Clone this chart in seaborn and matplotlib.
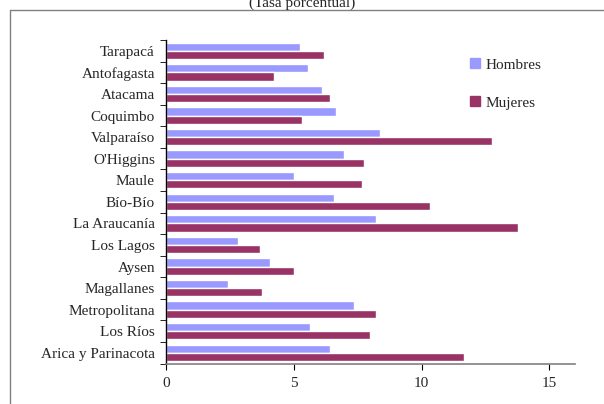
import pandas as pd
import numpy as np
import matplotlib
matplotlib.use("Agg")
import matplotlib.pyplot as plt
import seaborn as sns
from matplotlib.lines import Line2D
from matplotlib.patches import Patch

regiones = ["Tarapacá", "Antofagasta", "Atacama", "Coquimbo", "Valparaíso",
            "O'Higgins", "Maule", "Bío-Bío", "La Araucanía", "Los Lagos",
            "Aysen", "Magallanes", "Metropolitana", "Los Ríos", "Arica y Parinacota"]
hombres = [5.24, 5.56, 6.10, 6.65, 8.38, 6.97, 5.01, 6.58, 8.22, 2.82,
           4.07, 2.43, 7.36, 5.64, 6.42]
mujeres = [6.18, 4.23, 6.42, 5.32, 12.76, 7.75, 7.67, 10.33, 13.78, 3.68,
           5.01, 3.76, 8.22, 7.98, 11.66]
series = ["Hombres", "Mujeres"]
colores = ["#9999FF", "#993366"]

df = pd.DataFrame({
    "Region": regiones * 2,
    "Tasa": hombres + mujeres,
    "Sexo": ["Hombres"] * len(regiones) + ["Mujeres"] * len(regiones),
})

sns.set_style("white")
plt.rcParams["font.family"] = ["Liberation Serif", "DejaVu Serif"]

fig = plt.figure(figsize=(6.04, 4.04), dpi=100)
ax = fig.add_axes([0.275, 0.1, 0.677, 0.801])

sns.barplot(data=df, y="Region", x="Tasa", hue="Sexo", order=regiones,
            hue_order=series, palette=colores, orient="h", width=0.76,
            saturation=1, ax=ax, legend=False)

ax.set_xlim(0, 16)
ax.set_ylim(len(regiones) - 0.5, -0.5)
ax.set_xticks([0, 5, 10, 15])
ax.set_xlabel("")
ax.set_ylabel("")
ax.tick_params(axis="x", labelsize=11, length=4, direction="out", bottom=True,
               color="black", pad=6)
ax.tick_params(axis="y", labelsize=11, length=0, pad=8)
ax.set_yticks(np.arange(-0.5, len(regiones), 1), minor=True)
ax.tick_params(axis="y", which="minor", length=4, left=True, color="black")

for s in ["top", "right"]:
    ax.spines[s].set_visible(False)
ax.spines["left"].set_color("black")
ax.spines["bottom"].set_color("#808080")
ax.spines["left"].set_linewidth(1)
ax.spines["bottom"].set_linewidth(1.2)

handles = [Patch(color=c) for c in colores]
fig.legend(handles, series, loc="upper left", bbox_to_anchor=(0.755, 0.89),
           frameon=False, fontsize=11, handlelength=0.65, handleheight=0.65,
           handletextpad=0.4, labelspacing=1.6)

# outer chart frame
fig.add_artist(Line2D([10 / 604, 10 / 604], [0, 1 - 10 / 404],
                      transform=fig.transFigure, color="#808080", lw=1))
fig.add_artist(Line2D([10 / 604, 1], [1 - 10 / 404, 1 - 10 / 404],
                      transform=fig.transFigure, color="#808080", lw=1))

fig.text(0.5, 0.992, "(Tasa porcentual)", ha="center", va="center", fontsize=11)

fig.savefig("out.png", dpi=100)
